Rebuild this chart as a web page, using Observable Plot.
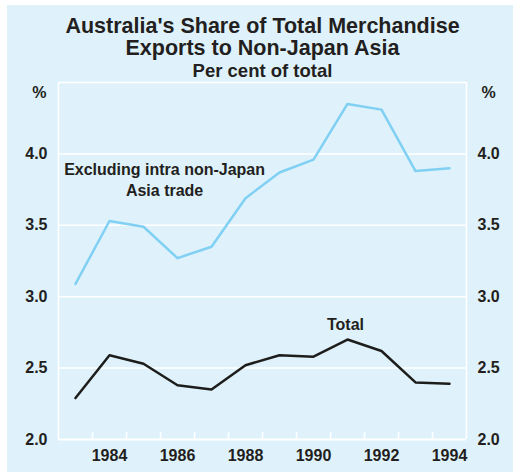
<!DOCTYPE html>
<html><head><meta charset="utf-8">
<script src="https://cdn.jsdelivr.net/npm/d3@7"></script>
<script src="https://cdn.jsdelivr.net/npm/@observablehq/plot@0.6"></script>
<style>
html,body{margin:0;padding:0;background:#fff;}
#wrap{position:relative;width:513px;height:472px;overflow:hidden;font-family:"Liberation Sans",Arial,sans-serif;font-weight:bold;color:#231f20;}
#panel{position:absolute;left:7px;top:5px;right:0;bottom:0;background:#dff2fb;}
.t{position:absolute;left:12px;width:501px;text-align:center;white-space:nowrap;line-height:1;}
#t1{top:16px;font-size:21.5px;}
#t2{top:38px;font-size:21.5px;}
#t3{top:61.5px;font-size:18.5px;}
#chart{position:absolute;left:0;top:76px;}
</style></head>
<body>
<div id="wrap">
  <div id="panel"></div>
  <div class="t" id="t1">Australia's Share of Total Merchandise</div>
  <div class="t" id="t2">Exports to Non-Japan Asia</div>
  <div class="t" id="t3">Per cent of total</div>
  <div id="chart"></div>
</div>
<script>
const years = [1983,1984,1985,1986,1987,1988,1989,1990,1991,1992,1993,1994];
const exclIntra = [3.09,3.53,3.49,3.27,3.35,3.69,3.87,3.96,4.35,4.31,3.88,3.90];
const totalShare = [2.29,2.59,2.53,2.38,2.35,2.52,2.59,2.58,2.70,2.62,2.40,2.39];
const yTicks = [2.0,2.5,3.0,3.5,4.0];
const gridLines = [2.5,3.0,3.5,4.0,4.5];
const xLabelYears = [1984,1986,1988,1990,1992,1994];
const xTickBounds = [1983.5,1984.5,1985.5,1986.5,1987.5,1988.5,1989.5,1990.5,1991.5,1992.5,1993.5];
const xDomain = [1982.5,1994.5];
const yDomain = [2,4.5];
const tickLen = 0.05;
const seriesLabels = [
  {x:1985.62, y:3.825, text:"Excluding intra non-Japan\nAsia trade"},
  {x:1990.94, y:2.81, text:"Total"}
];
const unitLabel = "%";
const unitY = 4.43;

const exclData = years.map((y,i)=>({year:y, value:exclIntra[i]}));
const totalData = years.map((y,i)=>({year:y, value:totalShare[i]}));

const chart = Plot.plot({
  width:513, height:396,
  marginTop:6, marginBottom:33, marginLeft:58, marginRight:47,
  style:{background:"transparent", fontFamily:'"Liberation Sans", Arial, sans-serif', fontSize:"16px", fontWeight:"bold", color:"#231f20"},
  x:{domain:xDomain},
  y:{domain:yDomain},
  marks:[
    Plot.ruleY(gridLines, {stroke:"white", strokeWidth:1.5}),
    Plot.ruleX(xDomain, {stroke:"white", strokeWidth:1.5}),
    Plot.ruleY([yDomain[0]], {stroke:"white", strokeWidth:2}),
    Plot.ruleX(xTickBounds, {y1:yDomain[0], y2:yDomain[0]+tickLen, stroke:"white", strokeWidth:1.5}),
    Plot.line(exclData, {x:"year", y:"value", stroke:"#80d0f4", strokeWidth:2.5}),
    Plot.line(totalData, {x:"year", y:"value", stroke:"#1d1d1b", strokeWidth:2.5}),
    Plot.axisY(yTicks, {anchor:"left", tickSize:0, tickPadding:11, tickFormat:d3.format(".1f")}),
    Plot.axisY(yTicks, {anchor:"right", tickSize:0, tickPadding:11, tickFormat:d3.format(".1f")}),
    Plot.axisX(xLabelYears, {anchor:"bottom", tickSize:0, tickPadding:10, tickFormat:d=>String(d)}),
    Plot.text(seriesLabels, {x:"x", y:"y", text:"text", lineHeight:1.3, fontSize:16}),
    Plot.text([unitLabel], {x:()=>xDomain[0], y:()=>unitY, text:d=>d, textAnchor:"end", dx:-12}),
    Plot.text([unitLabel], {x:()=>xDomain[1], y:()=>unitY, text:d=>d, textAnchor:"start", dx:15})
  ]
});
document.getElementById("chart").appendChild(chart);
</script>
</body></html>
